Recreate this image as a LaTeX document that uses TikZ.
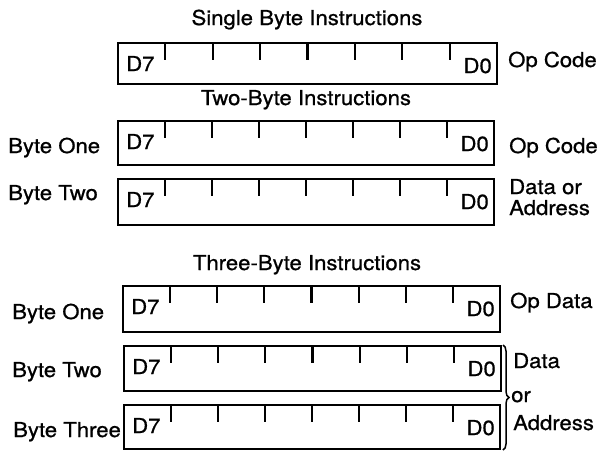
\documentclass[tikz,border=0pt]{standalone}
\usepackage{fontspec}
\setmainfont{TeX Gyre Heros}[FakeStretch=1.08, FakeBold=0.8]
\usetikzlibrary{decorations.pathreplacing}
\tikzset{
  regline/.style={line width=2.2pt, line cap=rect},
  tickline/.style={line width=2.2pt},
  lbl/.style={inner sep=0pt, font=\fontsize{20.5}{24}\selectfont},
  ttl/.style={inner sep=0pt, font=\fontsize{20.5}{24}\selectfont, anchor=base},
}
% #1 name, #2 left, #3 top, #4 right, #5 bottom
\newcommand\bytereg[5]{%
  \coordinate (#1nw) at (#2,#3);
  \coordinate (#1se) at (#4,#5);
  \draw[regline] (#1nw) rectangle (#1se);
  \foreach \k in {1,...,7}{%
    \draw[tickline] ({#2+\k*(#4-#2)/8},#3) -- ++(0,17);
  }
  \node[lbl, anchor=base west] (#1d7) at (#2+8,#3+28) {D7};
  \node[lbl, anchor=base east] (#1d0) at (#4-5,#3+30) {D0};
}
\begin{document}
\begin{tikzpicture}[x=1pt,y=-1pt]
\useasboundingbox (0,0) rectangle (598,451);
% Single byte
\node[ttl] (t1) at (307,25) {Single Byte Instructions};
\bytereg{a}{118}{43}{497}{84}
\node[lbl, anchor=base west] (a1) at (508,67) {Op Code};
% Two byte
\node[ttl] (t2) at (306,105) {Two-Byte Instructions};
\bytereg{b}{118}{121}{494}{165}
\node[lbl, anchor=base west] (bl) at (8,153) {Byte One};
\node[lbl, anchor=base west] (br) at (509,153) {Op Code};
\bytereg{c}{118}{179}{494}{225}
\node[lbl, anchor=base west] (cl) at (8,200) {Byte Two};
\node[lbl, anchor=base west] (cr1) at (509,194) {Data or};
\node[lbl, anchor=base west] (cr2) at (509,215) {Address};
% Three byte
\node[ttl] (t3) at (307,270) {Three-Byte Instructions};
\bytereg{d}{123}{286}{500}{332}
\node[lbl, anchor=base west] (dl) at (12,319) {Byte One};
\node[lbl, anchor=base west] (dr) at (510,308) {Op Data};
\bytereg{e}{124}{346}{501}{391}
\node[lbl, anchor=base west] (el) at (12,377) {Byte Two};
\bytereg{f}{124}{405}{500}{449}
\node[lbl, anchor=base west] (fl) at (13,437) {Byte Three};
\coordinate (bt) at (503,345);
\coordinate (bb) at (503,450);
\draw[line width=1.5pt, decorate, decoration={brace, amplitude=6pt}] (bt) -- (bb);
\node[lbl, anchor=base west] (g1) at (513,368) {Data};
\node[lbl, anchor=base west] (g2) at (511,402) {or};
\node[lbl, anchor=base west] (g3) at (513,430) {Address};
\end{tikzpicture}
\end{document}
